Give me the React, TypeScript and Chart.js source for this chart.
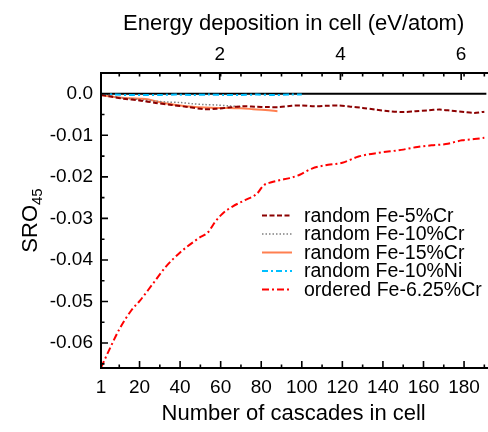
import React, { useEffect, useRef } from "react";
import { Chart, registerables } from "chart.js";

Chart.register(...registerables);

const FONT = '"Liberation Sans", Arial, Helvetica, sans-serif';

// Axis ticks
const cascadeTicks = [1, 20, 40, 60, 80, 100, 120, 140, 160, 180];
const cascadeMinorTicks = [10, 20, 30, 40, 50, 60, 70, 80, 90, 100, 110, 120, 130, 140, 150, 160, 170, 180, 190];
const energyTicks = [2, 4, 6];
const sroTicks = [0, -0.01, -0.02, -0.03, -0.04, -0.05, -0.06];
const sroMinorTicks = [0, -0.005, -0.01, -0.015, -0.02, -0.025, -0.03, -0.035, -0.04, -0.045, -0.05, -0.055, -0.06, -0.065];
const CASCADE_MIN = 1;
const CASCADE_MAX = 191;
const SRO_MIN = -0.066;
const SRO_MAX = 0.005;
const ENERGY_PER_CASCADE = 0.0336; // eV/atom per cascade

// Series: random Fe-5%Cr
const fe5CrX = [1, 5, 12, 20, 28, 36, 44, 52, 58, 64, 71, 77, 83, 89, 95, 100, 106, 112, 118, 124, 130, 136, 143, 150, 156, 162, 168, 174, 180, 185, 190];
const fe5CrY = [-0.0003, -0.0006, -0.0012, -0.0016, -0.0022, -0.0027, -0.0032, -0.0037, -0.0036, -0.0033, -0.003, -0.0031, -0.0032, -0.0032, -0.0029, -0.0028, -0.003, -0.0029, -0.0028, -0.0031, -0.0034, -0.0038, -0.0042, -0.0044, -0.0042, -0.004, -0.0038, -0.0041, -0.0044, -0.0046, -0.0043];

// Series: random Fe-10%Cr
const fe10CrX = [1, 5, 10, 16, 22, 28, 34, 40, 46, 52, 58, 64, 70];
const fe10CrY = [-0.0002, -0.0005, -0.0009, -0.0012, -0.0015, -0.0018, -0.002, -0.0021, -0.0024, -0.0026, -0.0027, -0.0029, -0.0031];

// Series: random Fe-15%Cr
const fe15CrX = [1, 5, 10, 15, 20, 24, 28, 34, 40, 46, 52, 58, 64, 70, 76, 82, 88];
const fe15CrY = [-0.0003, -0.0006, -0.0009, -0.0011, -0.0012, -0.0013, -0.0018, -0.0024, -0.0028, -0.0031, -0.0033, -0.0034, -0.0034, -0.0035, -0.0037, -0.0039, -0.0042];

// Series: random Fe-10%Ni
const fe10NiX = [1, 8, 15, 22, 30, 38, 46, 54, 62, 70, 78, 86, 94, 100];
const fe10NiY = [0.0, -0.0002, -0.0003, -0.0003, -0.0003, -0.0002, -0.0003, -0.0002, -0.0003, -0.0003, -0.0002, -0.0003, -0.0002, -0.0002];

// Series: ordered Fe-6.25%Cr
const ordX = [1, 5, 10, 16, 20, 26, 33, 40, 49, 54, 57, 61, 66, 72, 78, 81, 85, 89, 94, 99, 105, 113, 120, 128, 138, 149, 157, 164, 171, 179, 185, 190];
const ordY = [-0.0659, -0.0617, -0.0567, -0.0521, -0.0499, -0.0461, -0.0416, -0.0382, -0.0348, -0.0332, -0.031, -0.0288, -0.0271, -0.0256, -0.024, -0.0221, -0.0213, -0.0208, -0.0203, -0.0195, -0.018, -0.0171, -0.0166, -0.0151, -0.0142, -0.0135, -0.0128, -0.0124, -0.0121, -0.0112, -0.0109, -0.0106];

const seriesLabels = ["random Fe-5%Cr", "random Fe-10%Cr", "random Fe-15%Cr", "random Fe-10%Ni", "ordered Fe-6.25%Cr"];

const toPoints = (xs: number[], ys: number[]) => xs.map((x, i) => ({ x, y: ys[i] }));

const framePlugin = {
  id: "frame",
  beforeDatasetsDraw(chart: any) {
    const { ctx, chartArea } = chart;
    const y = chart.scales.y.getPixelForValue(0);
    ctx.save();
    ctx.strokeStyle = "#000";
    ctx.lineWidth = 2;
    ctx.beginPath();
    ctx.moveTo(chartArea.left, y);
    ctx.lineTo(chartArea.right, y);
    ctx.stroke();
    ctx.restore();
  },
  afterDatasetsDraw(chart: any) {
    const { ctx, chartArea } = chart;
    const { left, right, top, bottom } = chartArea;
    const xs = chart.scales.x;
    const x2 = chart.scales.x2;
    const ys = chart.scales.y;
    ctx.save();
    ctx.strokeStyle = "#000";
    ctx.lineWidth = 2;
    ctx.beginPath();
    ctx.moveTo(right + 2, top);
    ctx.lineTo(left, top);
    ctx.lineTo(left, bottom);
    ctx.lineTo(right + 2, bottom);
    ctx.stroke();
    ctx.lineWidth = 1.6;
    ctx.beginPath();
    cascadeMinorTicks.forEach((c) => {
      const px = xs.getPixelForValue(c);
      const len = c % 20 === 0 ? 7 : 3.5;
      ctx.moveTo(px, bottom);
      ctx.lineTo(px, bottom - len);
      ctx.moveTo(px, top);
      ctx.lineTo(px, top + 3.5);
    });
    energyTicks.forEach((e) => {
      const px = x2.getPixelForValue(e);
      ctx.moveTo(px, top);
      ctx.lineTo(px, top + 7);
    });
    sroMinorTicks.forEach((v) => {
      const py = ys.getPixelForValue(v);
      const major = Math.abs(Math.round(v * 1000) % 10) === 0;
      ctx.moveTo(left, py);
      ctx.lineTo(left + (major ? 7 : 3.5), py);
    });
    ctx.stroke();
    ctx.restore();
  },
  afterDraw(chart: any) {
    const { ctx, chartArea } = chart;
    // Y axis title with subscript
    ctx.save();
    ctx.fillStyle = "#000";
    const cy = (chartArea.top + chartArea.bottom) / 2;
    ctx.translate(37, cy);
    ctx.rotate(-Math.PI / 2);
    ctx.font = `22px ${FONT}`;
    const w1 = ctx.measureText("SRO").width;
    ctx.font = `15px ${FONT}`;
    const w2 = ctx.measureText("45").width;
    const start = -(w1 + w2) / 2;
    ctx.font = `22px ${FONT}`;
    ctx.textBaseline = "alphabetic";
    ctx.textAlign = "left";
    ctx.fillText("SRO", start, 0);
    ctx.font = `15px ${FONT}`;
    ctx.fillText("45", start + w1, 5);
    ctx.restore();

    // Legend
    ctx.save();
    const rowY0 = 215.5;
    const rowStep = 18.5;
    chart.data.datasets.forEach((ds: any, i: number) => {
      const yy = rowY0 + i * rowStep;
      ctx.strokeStyle = ds.borderColor;
      ctx.lineWidth = ds.borderWidth;
      ctx.setLineDash(ds.borderDash || []);
      ctx.beginPath();
      ctx.moveTo(262, yy);
      ctx.lineTo(292, yy);
      ctx.stroke();
      ctx.setLineDash([]);
      ctx.fillStyle = "#000";
      ctx.font = `19.5px ${FONT}`;
      ctx.textBaseline = "middle";
      ctx.textAlign = "left";
      ctx.fillText(ds.label, 304, yy + 1);
    });
    ctx.restore();
  },
};

export default function App() {
  const ref = useRef<HTMLCanvasElement | null>(null);
  useEffect(() => {
    if (!ref.current) return;
    const chart = new Chart(ref.current, {
      type: "line",
      data: {
        datasets: [
          { label: seriesLabels[0], data: toPoints(fe5CrX, fe5CrY), borderColor: "#8b0000", borderWidth: 2, borderDash: [5, 2.5], pointRadius: 0, fill: false, tension: 0.3 },
          { label: seriesLabels[1], data: toPoints(fe10CrX, fe10CrY), borderColor: "#808080", borderWidth: 1.5, borderDash: [1.5, 2], pointRadius: 0, fill: false, tension: 0.3 },
          { label: seriesLabels[2], data: toPoints(fe15CrX, fe15CrY), borderColor: "#ff7f50", borderWidth: 2, borderDash: [], pointRadius: 0, fill: false, tension: 0.3 },
          { label: seriesLabels[3], data: toPoints(fe10NiX, fe10NiY), borderColor: "#00bfff", borderWidth: 2, borderDash: [6, 3, 2, 3], pointRadius: 0, fill: false, tension: 0.3 },
          { label: seriesLabels[4], data: toPoints(ordX, ordY), borderColor: "#ff0000", borderWidth: 2, borderDash: [7, 3, 2, 3], pointRadius: 0, fill: false, cubicInterpolationMode: "monotone" },
        ] as any,
      },
      options: {
        animation: false,
        responsive: false,
        maintainAspectRatio: false,
        layout: { padding: 0 },
        plugins: { legend: { display: false }, tooltip: { enabled: false }, title: { display: false } },
        scales: {
          x: {
            type: "linear",
            position: "bottom",
            min: CASCADE_MIN,
            max: CASCADE_MAX,
            grid: { display: false, drawTicks: false },
            border: { display: false },
            afterBuildTicks: (axis: any) => { axis.ticks = cascadeTicks.map((v) => ({ value: v })); },
            afterFit: (axis: any) => { axis.height = 64; },
            ticks: { color: "#000", font: { family: FONT, size: 19 }, padding: 8, maxRotation: 0, autoSkip: false, callback: (v: any) => String(v) },
            title: { display: true, text: "Number of cascades in cell", color: "#000", font: { family: FONT, size: 22 }, padding: { top: 0, bottom: 5 } },
          },
          x2: {
            type: "linear",
            position: "top",
            min: CASCADE_MIN * ENERGY_PER_CASCADE,
            max: CASCADE_MAX * ENERGY_PER_CASCADE,
            grid: { display: false, drawTicks: false },
            border: { display: false },
            afterBuildTicks: (axis: any) => { axis.ticks = energyTicks.map((v) => ({ value: v })); },
            afterFit: (axis: any) => { axis.height = 73; },
            ticks: { color: "#000", font: { family: FONT, size: 19 }, padding: 7, maxRotation: 0, autoSkip: false, callback: (v: any) => String(v) },
            title: { display: true, text: "Energy deposition in cell (eV/atom)", color: "#000", font: { family: FONT, size: 22 }, padding: { top: 11, bottom: 0 } },
          },
          y: {
            type: "linear",
            position: "left",
            min: SRO_MIN,
            max: SRO_MAX,
            grid: { display: false, drawTicks: false },
            border: { display: false },
            afterBuildTicks: (axis: any) => { axis.ticks = sroTicks.map((v) => ({ value: v })); },
            afterFit: (axis: any) => { axis.width = 101; },
            ticks: { color: "#000", font: { family: FONT, size: 19 }, padding: 8, autoSkip: false, callback: (v: any) => (v === 0 ? "0.0" : Number(v).toFixed(2)) },
            title: { display: false },
          },
        },
      } as any,
      plugins: [framePlugin],
    });
    return () => chart.destroy();
  }, []);
  return (
    <div style={{ position: "absolute", left: 0, top: 0, width: 488, height: 432, background: "#fff" }}>
      <canvas ref={ref} width={488} height={432} style={{ display: "block" }} />
    </div>
  );
}
